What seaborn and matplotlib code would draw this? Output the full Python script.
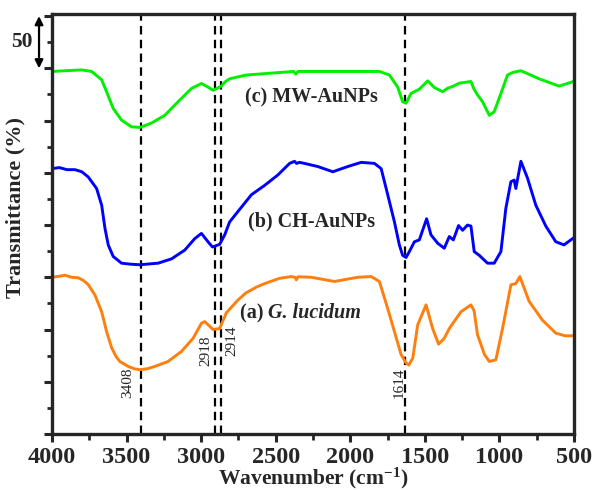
import numpy as np
import pandas as pd
import matplotlib
matplotlib.use("Agg")
import matplotlib.pyplot as plt
import seaborn as sns

# ---------------- data ----------------
wn_a = [4000, 3950, 3913, 3870, 3824, 3790, 3757, 3712, 3667, 3634, 3600, 3570, 3545, 3489, 3450, 3411,
        3360, 3310, 3222, 3132, 3054, 2998, 2976, 2942, 2920, 2876, 2831, 2755, 2700, 2628, 2574,
        2474, 2396, 2370, 2362, 2350, 2262, 2106, 1950, 1860, 1805, 1749, 1704, 1659, 1626,
        1608, 1581, 1548, 1492, 1448, 1408, 1370, 1336, 1258, 1191, 1170, 1147, 1100, 1068, 1024,
        979, 923, 890, 863, 801, 712, 622, 560, 500]
tr_a = [150, 151, 152, 150, 149.5, 147, 143, 133, 117, 98, 82.5, 74, 69.4, 64.7, 62.5, 61.5,
        62.5, 64.7, 69.4, 79, 91.6, 106, 107.6, 103, 100, 101, 116, 128, 135, 140.7, 144,
        149, 150.7, 150, 147.5, 150.5, 150, 146, 150, 150.7, 146, 120, 98, 76, 68,
        66, 72.6, 104.5, 123.6, 101, 86, 91.6, 101, 117, 123.6, 118, 95, 76, 69.4, 71,
        101, 142.8, 144, 150.7, 127, 109, 96.5, 94, 94]

wn_b = [4000, 3950, 3900, 3846, 3800, 3757, 3701, 3667, 3645, 3623, 3590, 3534, 3470, 3411, 3289,
        3199, 3110, 3043, 2998, 2954, 2924, 2876, 2842, 2809, 2753, 2663, 2574, 2485, 2407,
        2374, 2360, 2340, 2307, 2218, 2117, 2017, 1927, 1838, 1793, 1749, 1704, 1671,
        1649, 1626, 1604, 1570, 1537, 1510, 1488, 1459, 1414, 1370, 1336, 1309, 1274, 1247,
        1214, 1191, 1169, 1135, 1080, 1035, 990, 957, 923, 901, 890, 856, 812, 756, 689, 622,
        567, 500]
tr_b = [254, 255, 253, 253, 251, 246, 235, 219, 197, 181, 170, 163.5, 162.5, 162, 163.5,
        167.6, 176, 187, 192, 184, 179, 181.5, 190.6, 203, 213, 229, 238, 248, 259,
        261, 259, 260, 259, 256, 251, 256, 260, 259, 254, 229, 203, 181,
        171, 169, 174.6, 184, 185.8, 197, 206, 190.6, 182.6, 177.8, 189, 185.8, 199.5, 195,
        200, 199, 174.6, 171, 163.5, 163.5, 174.6, 216, 241.5, 243, 235, 261, 245, 219, 199, 184,
        181, 188]

wn_c = [4000, 3870, 3800, 3734, 3667, 3634, 3590, 3534, 3467, 3411, 3333, 3244, 3155, 3065,
        2998, 2954, 2920, 2864, 2840, 2809, 2697, 2474, 2380, 2365, 2350, 2139, 1805, 1738,
        1682, 1649, 1626, 1593, 1537, 1481, 1436, 1381, 1347, 1314, 1269, 1191, 1170, 1147,
        1113, 1068, 1035, 990, 946, 912, 856, 734, 600, 511, 500]
tr_c = [347, 348, 348.5, 347, 339, 327.6, 311.7, 300.5, 294, 293.4, 297.6, 305, 318, 330.7,
        335.5, 332, 329, 333, 337, 340, 343.6, 346, 347, 344.5, 347, 347, 347, 343.6,
        332, 318, 316.6, 326, 330, 338, 331.6, 327.6, 331, 332.6, 335.8, 337.4, 330, 324.6,
        318, 305, 308.5, 326, 343.6, 346, 347.7, 340, 333, 337, 338]

series_names = ["(a) G. lucidum", "(b) CH-AuNPs", "(c) MW-AuNPs"]
series_colors = ["#ff7f0e", "#0000ff", "#00f000"]

peak_pos = [3406, 2909, 2869, 1633]          # drawn positions of the dashed markers
peak_text = ["3408", "2918", "2914", "1614"]   # their labels
xticks = [4000, 3500, 3000, 2500, 2000, 1500, 1000, 500]
scale_bar = 50

# ---------------- figure ----------------
sns.set_style("ticks")
plt.rcParams["font.family"] = ["Liberation Serif", "DejaVu Serif"]
plt.rcParams["font.weight"] = "bold"
plt.rcParams["mathtext.fontset"] = "custom"
plt.rcParams["mathtext.rm"] = "Liberation Serif:bold"
plt.rcParams["mathtext.bf"] = "Liberation Serif:bold"
plt.rcParams["mathtext.it"] = "Liberation Serif:bold:italic"

fig = plt.figure(figsize=(5.97, 4.90), dpi=100)
ax = fig.add_axes([52 / 597, 56 / 490, (574 - 52) / 597, (434 - 14) / 490])

frames = []
for name, wn, tr in zip(series_names, [wn_a, wn_b, wn_c], [tr_a, tr_b, tr_c]):
    frames.append(pd.DataFrame({"wn": wn, "tr": tr, "series": name}))
df = pd.concat(frames, ignore_index=True)

sns.lineplot(data=df, x="wn", y="tr", hue="series", palette=series_colors,
             hue_order=series_names, sort=False, estimator=None, lw=2.1,
             legend=False, ax=ax)

for p in peak_pos:
    ax.axvline(p, color="black", lw=1.6, ls=(0, (3.8, 2.4)), zorder=1)

ax.set_xlim(4000, 500)
ax.set_ylim(0, 402)
ax.set_xticks(xticks)
ax.set_xticks(np.arange(3750, 500, -500), minor=True)
ax.set_yticks(np.arange(0, 401, 50))
ax.set_yticks(np.arange(25, 401, 50), minor=True)
ax.set_yticklabels([])
ax.tick_params(axis="x", which="major", length=6, width=2.2, labelsize=17.5, pad=3)
ax.tick_params(axis="x", which="minor", length=4, width=2.0)
ax.tick_params(axis="y", which="major", length=6, width=2.2)
ax.tick_params(axis="y", which="minor", length=3.5, width=2.0)
for lab in ax.get_xticklabels():
    lab.set_fontweight("bold")
for s in ax.spines.values():
    s.set_linewidth(2.4)

ax.set_xlabel(r"Wavenumber (cm$^{-1}$)", fontsize=15.5, fontweight="bold", labelpad=-1)
ax.set_ylabel("Transmittance (%)", fontsize=16, fontweight="bold")
ax.yaxis.set_label_coords(-0.05, 0.54)

# series labels
ax.text(2260, 322.5, "(c) MW-AuNPs", fontsize=14.5, fontweight="bold", ha="center", va="center")
ax.text(2260, 203, "(b) CH-AuNPs", fontsize=14.5, fontweight="bold", ha="center", va="center")
t_a = ax.text(2742, 115.8, "(a) ", fontsize=14.5, fontweight="bold", ha="left", va="center")
ax.annotate("G. lucidum", xy=(1, 0.5), xycoords=t_a, fontsize=14.5, fontweight="bold",
            fontstyle="italic", ha="left", va="center")

# peak labels
peak_lab_xy = [(3491, 48.8), (2969, 80), (2795, 89), (1671, 49)]
for (lx, ly), txt in zip(peak_lab_xy, peak_text):
    ax.text(lx, ly, txt, rotation=90, fontsize=11, fontweight="normal",
            ha="center", va="center")

# scale bar
ax.annotate("", xy=(4087, 400), xytext=(4087, 400 - scale_bar),
            arrowprops=dict(arrowstyle="<|-|>", color="black", lw=1.6,
                            mutation_scale=12, shrinkA=0, shrinkB=0),
            annotation_clip=False)
ax.text(4200, 375, str(scale_bar), fontsize=15.5, fontweight="bold",
        ha="center", va="center", clip_on=False)

fig.savefig("out.png", dpi=100)
